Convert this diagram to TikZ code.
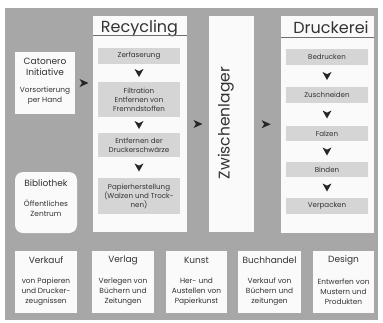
\documentclass[tikz,border=0pt]{standalone}
\usepackage{fontspec}
\setmainfont{Poppins}
\usetikzlibrary{calc}
\definecolor{bg}{HTML}{A7A7A7}
\definecolor{innergray}{HTML}{D5D5D5}
\definecolor{boxw}{HTML}{FAFAFA}
\definecolor{txt}{HTML}{333333}
\definecolor{rule}{HTML}{6E6E6E}
\tikzset{
  whitebox/.style={fill=boxw, draw=none, inner sep=0pt},
  stepbox/.style={fill=innergray, draw=none, minimum width=82pt, inner sep=0pt, align=center, text=txt, font=\fontsize{7.1}{9}\selectfont},
  small/.style={text=txt, align=center, inner sep=0pt, font=\fontsize{7.4}{10}\selectfont},
  mid/.style={text=txt, align=center, inner sep=0pt, font=\fontsize{9}{11}\selectfont},
  big/.style={text=txt, inner sep=0pt, font=\fontsize{16}{18}\selectfont},
  htip/.pic={\fill[black!85] (4.5,0) -- (-4.5,-4) -- (-2,0) -- (-4.5,4) -- cycle;},
  vtip/.pic={\fill[black!85] (0,4) -- (-4.5,-4) -- (0,-1.8) -- (4.5,-4) -- cycle;},
}
\begin{document}
\begin{tikzpicture}[x=1pt,y=-1pt]
\useasboundingbox[fill=white] (0,0) rectangle (383,322);
\fill[bg] (5,8) rectangle (378,320);

% left boxes
\node[whitebox, minimum width=60pt, minimum height=62pt] (cat) at (45,83) {};
\node[mid] (catt) at (45,66.5) {Catonero\\Initiative};
\node[small] (catb) at (45,96) {Vorsortierung\\per Hand};

\node[whitebox, rounded corners=8pt, minimum width=62pt, minimum height=61pt] (bib) at (46,202.5) {};
\node[mid] (bibt) at (46,183) {Bibliothek};
\node[small] (bibb) at (46,208) {Öffentliches\\Zentrum};

% Recycling
\node[whitebox, minimum width=94pt, minimum height=216pt] (rec) at (140,124) {};
\node[big, anchor=base] (rect) at (139.5,32.5) {Recycling};
\draw[rule, line width=0.9pt] (rec.west |- 0,35) -- (rec.east |- 0,35);
\node[stepbox, minimum height=16pt] (zerf) at (139,56) {Zerfaserung};
\node[stepbox, minimum height=35pt] (filt) at (139,99.5) {Filtration\\Entfernen von\\Fremndstoffen};
\node[stepbox, minimum height=24pt] (entf) at (139,145) {Entfernen der\\Druckerschwärze};
\node[stepbox, minimum height=36pt] (papi) at (139,196) {Papierherstellung\\(Walzen und Trock-\\nen)};
\pic at ($(zerf.south)!0.5!(filt.north)$) {vtip};
\pic at ($(filt.south)!0.5!(entf.north)$) {vtip};
\pic at ($(entf.south)!0.5!(papi.north)$) {vtip};

% Zwischenlager
\node[whitebox, minimum width=45pt, minimum height=216pt] (zw) at (231.5,124) {};
\node[big, rotate=90, anchor=base, font=\fontsize{15.5}{16}\selectfont] (zwt) at (229.5,123) {Zwischenlager};

% Druckerei
\node[whitebox, minimum width=93pt, minimum height=217pt] (dr) at (327.5,124.5) {};
\node[big, anchor=base] (drt) at (331,33.5) {Druckerei};
\draw[rule, line width=0.9pt] (dr.west |- 0,37) -- (dr.east |- 0,37);
\node[stepbox, minimum height=16pt] (bedr) at (327,57) {Bedrucken};
\node[stepbox, minimum height=16pt] (zusc) at (327,95) {Zuschneiden};
\node[stepbox, minimum height=15pt] (falz) at (327,133.5) {Falzen};
\node[stepbox, minimum height=15pt] (bind) at (327,169.5) {Binden};
\node[stepbox, minimum height=16pt] (verp) at (327,206) {Verpacken};
\pic at ($(bedr.south)!0.5!(zusc.north)$) {vtip};
\pic at ($(zusc.south)!0.5!(falz.north)$) {vtip};
\pic at ($(falz.south)!0.5!(bind.north)$) {vtip};
\pic at ($(bind.south)!0.5!(verp.north)$) {vtip};

% horizontal arrows
\pic at ($(cat.east)!0.5!(cat.east -| rec.west)$) {htip};
\pic at ($(rec.east)!0.5!(zw.west)$) {htip};
\pic at ($(zw.east)!0.45!(dr.west)$) {htip};

% bottom row
\foreach \n/\cx/\w/\t/\b in {
  verk/46/62/Verkauf/{von Papieren\\und Drucker-\\zeugnissen},
  verl/123/62/Verlag/{Verlegen von\\Büchern und\\Zeitungen},
  kuns/196.5/61/Kunst/{Her- und\\Austellen von\\Papierkunst},
  buch/269.5/63/Buchhandel/{Verkauf von\\Büchern und\\zeitungen},
  desi/343.5/61/Design/{Entwerfen von\\Mustern und\\Produkten}}{
  \node[whitebox, minimum width=\w pt, minimum height=62pt] (\n) at (\cx,282) {};
  \node[mid] (\n t) at (\cx,260) {\t};
  \node[small] (\n b) at (\cx,292) {\b};
}
\end{tikzpicture}
\end{document}
